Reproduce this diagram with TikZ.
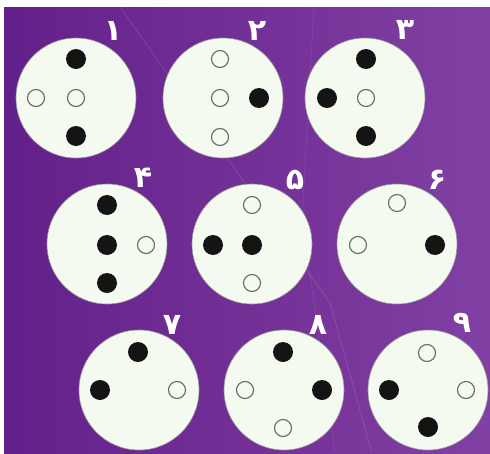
\documentclass[tikz,border=0pt]{standalone}
\usepackage{fontspec}
\usepackage{xcolor}
\usepackage{tikz}
\usetikzlibrary{positioning}
\TeXXeTstate=1
\newfontfamily\numfont[Script=Arabic]{DejaVu Sans}

\definecolor{bgleft}{HTML}{64208A}
\definecolor{bgright}{HTML}{8140A3}
\definecolor{discwhite}{HTML}{F5FAF1}
\definecolor{ringgray}{HTML}{707070}

\begin{document}
\begin{tikzpicture}[
  x=1pt, y=-1pt,
  disc/.style={circle, fill=discwhite, draw=black!40, line width=0.6pt,
    minimum size=120pt, inner sep=0pt},
  blk/.style={circle, fill=black!92, minimum size=20pt, inner sep=0pt},
  hol/.style={circle, draw=ringgray, line width=1.2pt, fill=discwhite,
    minimum size=17pt, inner sep=0pt},
  num/.style={text=white, font=\numfont\bfseries\fontsize{30}{30}\selectfont,
    inner sep=0pt}
]
\useasboundingbox (0,0) rectangle (490,453);
% background
\shade[left color=bgleft, right color=bgright] (4,7) rectangle (490,453);
\draw[white, opacity=0.12, line width=0.8pt] (120,7) -- (330,303) -- (372,453);
\draw[white, opacity=0.08, line width=0.8pt] (314,7) -- (302,218) -- (335,453);

% discs
\node[disc] (d1) at (76,98) {};
\node[disc] (d2) at (223,98) {};
\node[disc] (d3) at (365,98) {};
\node[disc] (d4) at (107,244) {};
\node[disc] (d5) at (252,244) {};
\node[disc] (d6) at (397,244) {};
\node[disc] (d7) at (139,390) {};
\node[disc] (d8) at (284,390) {};
\node[disc] (d9) at (428,390) {};

% numbers
\foreach \x/\y/\t [count=\k] in {113/31/۱, 257/31/۲, 405/30/۳,
    143/178/۴, 295/180/۵, 437/180/۶, 172/325/۷, 318/325/۸, 462/323/۹}
  \node[num] (n\k) at (\x,\y) {\beginR\t\endR};

% dots
\foreach \x/\y/\s [count=\k] in {
    76/59/blk, 36/98/hol, 76/98/hol, 76/136/blk,
    220/59/hol, 220/98/hol, 259/98/blk, 220/137/hol,
    366/59/blk, 327/98/blk, 366/98/hol, 366/136/blk,
    107/205/blk, 107/245/blk, 146/245/hol, 107/283/blk,
    252/205/hol, 213/245/blk, 252/245/blk, 252/283/hol,
    397/203/hol, 358/245/hol, 435/245/blk,
    138/352/blk, 100/390/blk, 177/390/hol,
    283/352/blk, 245/390/hol, 322/390/blk, 283/428/hol,
    427/353/hol, 389/390/blk, 466/390/hol, 428/427/blk}
  \node[\s] (p\k) at (\x,\y) {};
\end{tikzpicture}
\end{document}
